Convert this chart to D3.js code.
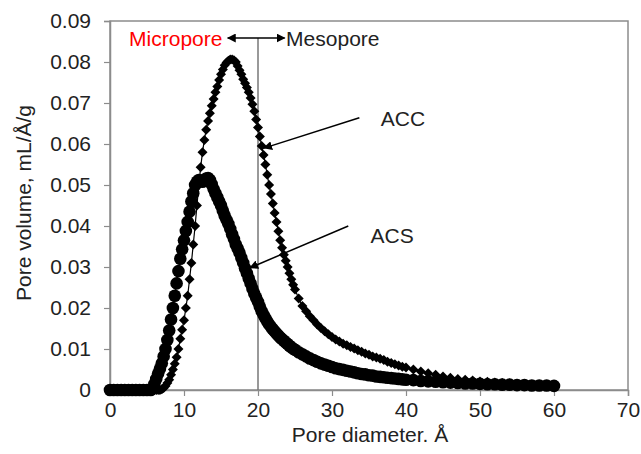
<!DOCTYPE html>
<html>
<head>
<meta charset="utf-8">
<script src="https://d3js.org/d3.v7.min.js"></script>
<style>
  body { margin: 0; background: #fff; }
  svg { font-family: "Liberation Sans", Arial, sans-serif; }
</style>
</head>
<body>
<svg id="chart" width="641" height="454"></svg>
<script>
// pore diameter (Å) shared by both samples
var diameter = [
  0, 0.5, 1, 1.5, 2, 2.5, 3, 3.5, 4, 4.5, 5, 5.5,
  6, 6.25, 6.5, 6.75, 7, 7.25, 7.5, 7.75,
  8, 8.25, 8.5, 8.75, 9, 9.25, 9.5, 9.75,
  10, 10.25, 10.5, 10.75, 11, 11.25, 11.5, 11.75,
  12, 12.25, 12.5, 12.75, 13, 13.25, 13.5, 13.75,
  14, 14.25, 14.5, 14.75, 15, 15.25, 15.5, 15.75,
  16, 16.25, 16.5, 16.75, 17, 17.25, 17.5, 17.75,
  18, 18.25, 18.5, 18.75, 19, 19.25, 19.5, 19.75,
  20, 20.25, 20.5, 20.75, 21, 21.25, 21.5, 21.75,
  22, 22.25, 22.5, 22.75, 23, 23.25, 23.5, 23.75,
  24, 24.25, 24.5, 24.75, 25,
  25.5, 26, 26.5, 27, 27.5, 28, 28.5, 29, 29.5, 30,
  30.5, 31, 31.5, 32, 32.5, 33, 33.5, 34, 34.5, 35,
  35.5, 36, 36.5, 37, 37.5, 38, 38.5, 39, 39.5, 40,
  41, 42, 43, 44, 45, 46, 47, 48, 49, 50,
  51, 52, 53, 54, 55, 56, 57, 58, 59, 60
];

// ACC pore volume (mL/Å/g)
var accVolume = [
  0, 0, 0, 0, 0, 0, 0, 0, 0, 0, 0, 0,
  0, 0, 0, 0, 0.0002, 0.0005, 0.001, 0.0017,
  0.0025, 0.0037, 0.005, 0.0064, 0.008, 0.010, 0.0125, 0.0147,
  0.017, 0.020, 0.023, 0.027, 0.031, 0.0355, 0.040, 0.045,
  0.050, 0.0543, 0.058, 0.061, 0.0635, 0.0656, 0.0675, 0.0693,
  0.071, 0.0726, 0.074, 0.0756, 0.077, 0.0782, 0.0792, 0.0799,
  0.0803, 0.0806, 0.0806, 0.0804, 0.080, 0.079, 0.078, 0.077,
  0.0758, 0.0748, 0.0738, 0.0726, 0.0712, 0.0697, 0.068, 0.066,
  0.064, 0.0618, 0.0595, 0.0573, 0.055, 0.0525, 0.050, 0.0478,
  0.0455, 0.0432, 0.041, 0.0387, 0.0365, 0.0347, 0.033, 0.0315,
  0.030, 0.0285, 0.027, 0.0257, 0.0245,
  0.0223, 0.0205, 0.0192, 0.018, 0.017, 0.016, 0.0151, 0.0143, 0.0136, 0.0129,
  0.0123, 0.0118, 0.0113, 0.0109, 0.0105, 0.0101, 0.0097, 0.0093, 0.0089, 0.0086,
  0.0082, 0.0079, 0.0076, 0.0073, 0.0069, 0.0066, 0.0063, 0.006, 0.0057, 0.0055,
  0.005, 0.0045, 0.0041, 0.0037, 0.0033, 0.003, 0.0027, 0.0025, 0.0023, 0.0021,
  0.002, 0.0018, 0.0017, 0.0016, 0.0015, 0.0014, 0.0013, 0.0013, 0.0012, 0.0012
];

// ACS pore volume (mL/Å/g)
var acsVolume = [
  0, 0, 0, 0, 0, 0, 0, 0, 0, 0, 0, 0,
  0.0015, 0.0027, 0.004, 0.0052, 0.0065, 0.0082, 0.010, 0.0122,
  0.0145, 0.0172, 0.020, 0.023, 0.026, 0.029, 0.032, 0.0343,
  0.0365, 0.0388, 0.041, 0.0435, 0.046, 0.048, 0.050, 0.0508,
  0.0512, 0.051, 0.0508, 0.0512, 0.0516, 0.0517, 0.0512, 0.0502,
  0.049, 0.048, 0.047, 0.046, 0.045, 0.0437, 0.0425, 0.0415,
  0.0405, 0.0393, 0.038, 0.0368, 0.0355, 0.0345, 0.0335, 0.0322,
  0.031, 0.0297, 0.0285, 0.0272, 0.026, 0.0247, 0.0235, 0.0225,
  0.0215, 0.0203, 0.0192, 0.0183, 0.0175, 0.0167, 0.016, 0.0154,
  0.0148, 0.0143, 0.0138, 0.0133, 0.0128, 0.0124, 0.012, 0.0116,
  0.0112, 0.0108, 0.0104, 0.0101, 0.0098,
  0.0092, 0.0087, 0.0082, 0.0077, 0.0073, 0.0069, 0.0065, 0.0062, 0.0059, 0.0056,
  0.0053, 0.0051, 0.0049, 0.0047, 0.0045, 0.0043, 0.0041, 0.0039, 0.0038, 0.0036,
  0.0035, 0.0033, 0.0032, 0.0031, 0.003, 0.0029, 0.0028, 0.0027, 0.0026, 0.0025,
  0.0024, 0.0022, 0.0021, 0.002, 0.0019, 0.0018, 0.0017, 0.0016, 0.0016, 0.0015,
  0.0014, 0.0014, 0.0013, 0.0013, 0.0012, 0.0012, 0.0011, 0.0011, 0.0011, 0.001
];

var xTicks = [0, 10, 20, 30, 40, 50, 60, 70];
var yTicks = [0, 0.01, 0.02, 0.03, 0.04, 0.05, 0.06, 0.07, 0.08, 0.09];

// annotation text, in data coordinates
var boundary = 20;
var seriesLabels = [
  { text: "ACC", at: [36.6, 0.0663], from: [33.7, 0.0664], to: [20.8, 0.0590] },
  { text: "ACS", at: [35.2, 0.0378], from: [32.2, 0.0400], to: [18.9, 0.0298] }
];

var svg = d3.select("#chart");
var plotLeft = 110, plotRight = 628, plotTop = 21, plotBottom = 390;

var x = d3.scaleLinear().domain([0, 70]).range([plotLeft, plotRight]);
var y = d3.scaleLinear().domain([0, 0.09]).range([plotBottom, plotTop]);

var axisColor = "#8c8c8c";
var textColor = "#222";
var fontSize = "21px";

// plot frame
svg.append("rect")
  .attr("x", plotLeft).attr("y", plotTop)
  .attr("width", plotRight - plotLeft).attr("height", plotBottom - plotTop)
  .attr("fill", "none").attr("stroke", axisColor).attr("stroke-width", 1.5);

// y axis
var gy = svg.append("g")
  .attr("transform", "translate(" + plotLeft + ",0)")
  .call(d3.axisLeft(y).tickValues(yTicks).tickSize(6).tickPadding(13)
    .tickFormat(function(d) { return d === 0 ? "0" : d3.format(".2f")(d); }));

// x axis
var gx = svg.append("g")
  .attr("transform", "translate(0," + plotBottom + ")")
  .call(d3.axisBottom(x).tickValues(xTicks).tickSize(6).tickPadding(6));

[gx, gy].forEach(function(g) {
  g.select(".domain").attr("stroke", axisColor).attr("stroke-width", 1.5);
  g.selectAll(".tick line").attr("stroke", axisColor).attr("stroke-width", 1.2);
  g.selectAll(".tick text")
    .attr("fill", textColor)
    .style("font-size", fontSize)
    .style("font-family", "'Liberation Sans', Arial, sans-serif");
});

// axis titles
svg.append("text")
  .attr("x", 370).attr("y", 442)
  .attr("text-anchor", "middle")
  .attr("fill", textColor)
  .style("font-size", fontSize)
  .text("Pore diameter. Å");

svg.append("text")
  .attr("transform", "translate(31,203) rotate(-90)")
  .attr("text-anchor", "middle")
  .attr("fill", textColor)
  .style("font-size", fontSize)
  .text("Pore volume, mL/Å/g");

// arrow markers
var defs = svg.append("defs");
defs.append("marker")
  .attr("id", "arrow")
  .attr("viewBox", "0 0 10 10")
  .attr("refX", 9).attr("refY", 5)
  .attr("markerWidth", 9).attr("markerHeight", 9)
  .attr("markerUnits", "userSpaceOnUse")
  .attr("orient", "auto-start-reverse")
  .append("path")
  .attr("d", "M0,0 L10,5 L0,10 Z")
  .attr("fill", "#000");

// micro / meso boundary line
var arrowY = 38;
svg.append("line")
  .attr("x1", x(boundary)).attr("x2", x(boundary))
  .attr("y1", arrowY).attr("y2", plotBottom)
  .attr("stroke", "#777").attr("stroke-width", 1.5);

svg.append("line")
  .attr("x1", x(15.9)).attr("x2", x(23.6))
  .attr("y1", arrowY).attr("y2", arrowY)
  .attr("stroke", "#000").attr("stroke-width", 1.5)
  .attr("marker-start", "url(#arrow)")
  .attr("marker-end", "url(#arrow)");

svg.append("text")
  .attr("x", x(15.2)).attr("y", arrowY + 8)
  .attr("text-anchor", "end")
  .attr("fill", "#ff0000")
  .style("font-size", fontSize)
  .text("Micropore");

svg.append("text")
  .attr("x", x(23.8)).attr("y", arrowY + 8)
  .attr("text-anchor", "start")
  .attr("fill", textColor)
  .style("font-size", fontSize)
  .text("Mesopore");

// series
var accData = diameter.map(function(d, i) { return { d: d, v: accVolume[i] }; });
var acsData = diameter.map(function(d, i) { return { d: d, v: acsVolume[i] }; });

var line = d3.line()
  .x(function(p) { return x(p.d); })
  .y(function(p) { return y(p.v); });

function drawSeries(data, symbol, size, rotate) {
  var g = svg.append("g");
  g.append("path")
    .datum(data)
    .attr("d", line)
    .attr("fill", "none")
    .attr("stroke", "#000")
    .attr("stroke-width", 1.2);
  g.selectAll("path.pt")
    .data(data)
    .enter()
    .append("path")
    .attr("class", "pt")
    .attr("d", d3.symbol().type(symbol).size(size))
    .attr("transform", function(p) {
      return "translate(" + x(p.d) + "," + y(p.v) + ") rotate(" + rotate + ")";
    })
    .attr("fill", "#000");
}

drawSeries(acsData, d3.symbolCircle, 125, 0);
drawSeries(accData, d3.symbolSquare, 50, 45);

// series labels with pointer arrows
seriesLabels.forEach(function(s) {
  svg.append("line")
    .attr("x1", x(s.from[0])).attr("y1", y(s.from[1]))
    .attr("x2", x(s.to[0])).attr("y2", y(s.to[1]))
    .attr("stroke", "#000").attr("stroke-width", 1.5)
    .attr("marker-end", "url(#arrow)");
  svg.append("text")
    .attr("x", x(s.at[0])).attr("y", y(s.at[1]) + 8)
    .attr("fill", textColor)
    .style("font-size", fontSize)
    .text(s.text);
});
</script>
</body>
</html>
